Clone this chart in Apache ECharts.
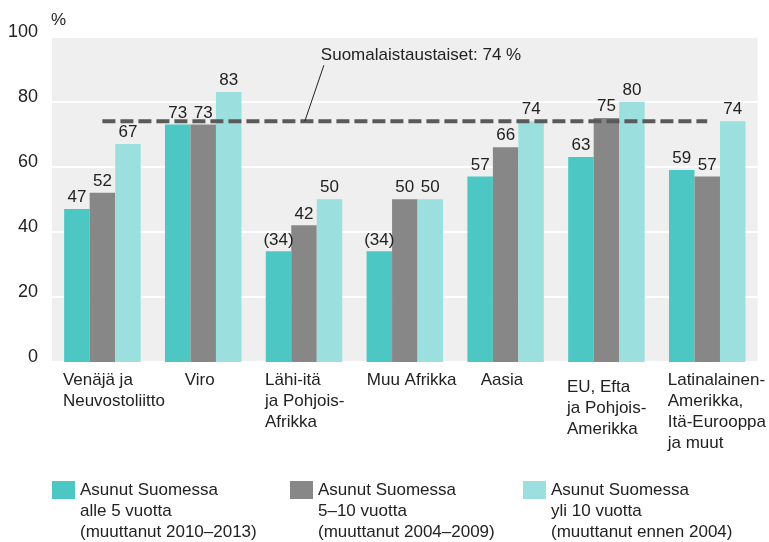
<!DOCTYPE html>
<html><head><meta charset="utf-8">
<script src="https://cdn.jsdelivr.net/npm/echarts@6/dist/echarts.min.js"></script>
<style>html,body{margin:0;padding:0;background:#fff}#c{width:769px;height:542px}</style>
</head><body><div id="c"></div>
<script>
const categories = ['Venäjä ja\nNeuvostoliitto','Viro','Lähi-itä\nja Pohjois-\nAfrikka','Muu Afrikka','Aasia','EU, Efta\nja Pohjois-\nAmerikka','Latinalainen-\nAmerikka,\nItä-Eurooppa\nja muut'];
const seriesNames = ['Asunut Suomessa\nalle 5 vuotta\n(muuttanut 2010–2013)','Asunut Suomessa\n5–10 vuotta\n(muuttanut 2004–2009)','Asunut Suomessa\nyli 10 vuotta\n(muuttanut ennen 2004)'];
const under5 = [47,73,34,34,57,63,59];
const from5to10 = [52,73,42,50,66,75,57];
const over10 = [67,83,50,50,74,80,74];
const under5Uncertain = [false,false,true,true,false,false,false];
const referenceValue = 74;
const referenceLabel = 'Suomalaistaustaiset: 74 %';
const yTicks = [0,20,40,60,80,100];

const FONT = "'Liberation Sans', Arial, sans-serif";
const colors = ['#4cc7c3','#878787','#9be0de'];
// label block widths (style) per category so labels start near their bar group
const labelWidths = [79,37,78,76,50,79,79];
const labelShiftDown = [0,0,0,0,0,7,0];

const chart = echarts.init(document.getElementById('c'),null,{renderer:'canvas'});
const bars = [under5,from5to10,over10].map((d,i)=>({
  type:'bar', name:seriesNames[i], data:d.map((v,j)=>{
    const item={value:v};
    if(i===0 && under5Uncertain[j]) item.label={formatter:'('+v+')'};
    return item;
  }),
  barWidth:25.5, barGap:'0%', itemStyle:{color:colors[i]},
  label:{show:true,position:'top',distance:3,color:'#222',fontFamily:FONT,fontSize:17}, z:3
}));
const legends = seriesNames.map((n,i)=>({
  data:[n], left:[52,290,523][i], top:437.5, orient:'horizontal', itemWidth:23, itemHeight:18, itemGap:0,
  icon:'rect', selectedMode:false, padding:0,
  formatter: s => '\n\n'+s,
  textStyle:{fontFamily:FONT,fontSize:17,color:'#222',lineHeight:21}
}));
const rich = {sp:{fontSize:1,lineHeight:1}};
labelWidths.forEach((w,i)=>{ rich['c'+i]={align:'left',width:w,fontFamily:FONT,fontSize:17,lineHeight:21,color:'#222'};
  rich['s'+i]={fontSize:1,lineHeight:Math.max(1,labelShiftDown[i])}; });
chart.setOption({
  animation:false,
  title:{text:'%',left:51,top:12,padding:0,textStyle:{fontFamily:FONT,fontSize:17,fontWeight:'normal',color:'#222'}},
  legend:legends,
  grid:{left:52,right:11,top:36.6,bottom:180,show:true,backgroundColor:'#efefef',borderWidth:0},
  xAxis:[{type:'category',data:categories,axisLine:{show:false},axisTick:{show:false},
    axisLabel:{margin:8,interval:0,align:'center',verticalAlign:'top',color:'#222',fontFamily:FONT,fontSize:17,lineHeight:21,
      formatter:(v,idx)=>(labelShiftDown[idx]?'{s'+idx+'| }\n':'')+v.split('\n').map(s=>'{c'+idx+'|'+s+'}').join('\n'),
      rich:rich}},
    {type:'value',min:-0.5,max:categories.length-0.5,show:false}],
  yAxis:{type:'value',min:0,max:100,interval:20,
    axisLine:{show:false},axisTick:{show:false},
    axisLabel:{margin:14,color:'#222',fontFamily:FONT,fontSize:18,verticalAlign:'bottom',lineHeight:9},
    splitLine:{show:true,lineStyle:{color:'#ffffff',width:2}}},
  series:[...bars,
    {type:'line',xAxisIndex:1,data:[[0,referenceValue],[categories.length-1,referenceValue]],
     symbol:'none',lineStyle:{color:'#5a5a5a',width:4,type:[13,5]},z:5,silent:true},
    {type:'line',xAxisIndex:1,symbol:'circle',symbolSize:0.1,showSymbol:true,itemStyle:{color:'rgba(0,0,0,0)'},
     data:[[2.008,referenceValue],{value:[2.197,91.2],label:{show:true,formatter:referenceLabel,position:'top',align:'left',distance:1,offset:[-3,0],fontFamily:FONT,fontSize:17,color:'#222'}}],
     lineStyle:{color:'#222',width:1},z:6,silent:true}
  ]
});
</script></body></html>
